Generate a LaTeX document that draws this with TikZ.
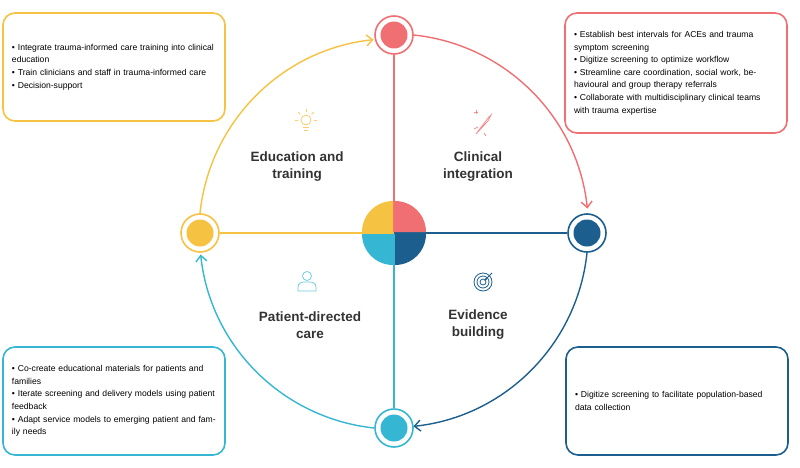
\documentclass[tikz,border=0pt]{standalone}
\usepackage{fontspec}
\setmainfont{Liberation Sans}
\usetikzlibrary{arrows.meta, calc}
\definecolor{cyel}{HTML}{F5C242}
\definecolor{cred}{HTML}{EF6F72}
\definecolor{cblu}{HTML}{1C5F8E}
\definecolor{ccya}{HTML}{35B6D2}
\begin{document}
\begin{tikzpicture}[x=1pt, y=1pt,
  ring/.style={circle, draw=#1, line width=1.6pt, fill=white, minimum size=38pt, inner sep=0pt,
    path picture={\fill[#1] (path picture bounding box.center) circle (13.5pt);}},
  box/.style={draw=#1, line width=1.6pt, rounded corners=12pt, inner xsep=9pt,
    text width=204pt, minimum height=108pt, align=left, font=\fontsize{8.6}{12.6}\selectfont},
  label/.style={font=\fontsize{13.5}{17}\selectfont\bfseries, align=center, text=black!80},
  loop/.style={line width=1.4pt, -{Straight Barb[length=6pt, width=11pt]}}]
  \useasboundingbox (0,0) rectangle (800,467);

  % centre and spokes
  \coordinate (C) at (394,234);
  \node[ring=cred] (T) at (394,432) {};
  \node[ring=cblu] (R) at (587,234) {};
  \node[ring=ccya] (B) at (394,39) {};
  \node[ring=cyel] (L) at (200,234) {};
  \draw[cred, line width=1.4pt] (T) -- (C);
  \draw[ccya, line width=1.4pt] (C) -- (B);
  \draw[cyel, line width=1.4pt] (L) -- (C);
  \draw[cblu, line width=1.4pt] (C) -- (R);

  % centre quarters
  \fill[cyel] ($(C)+(-1,1)$) -- ++(-31,0) arc (180:90:31) -- cycle;
  \fill[cred] ($(C)+(1,1)$) -- ++(0,31) arc (90:0:31) -- cycle;
  \fill[ccya] ($(C)+(-1,-1)$) -- ++(0,-31) arc (270:180:31) -- cycle;
  \fill[cblu] ($(C)+(1,-1)$) -- ++(31,0) arc (0:-90:31) -- cycle;

  % loop arrows
  \draw[loop, cyel] (L.north) arc (174:96:195);
  \draw[loop, cred] (T.east) arc (84:6:195);
  \draw[loop, cblu] (R.south) arc (-6:-84:195);
  \draw[loop, ccya] (B.west) arc (264:186:195);

  % labels
  \node[label] (edu) at (297,300) {Education and\\training};
  \node[label] (cli) at (478,300) {Clinical\\integration};
  \node[label] (pat) at (310,142) {Patient-directed\\care};
  \node[label] (evi) at (478,142) {Evidence\\building};

  % icons
  \begin{scope}[cyel!80!white, line width=0.8pt]
    \draw (306,347) circle (5);
    \draw (303,340) -- (309,340) (304,337) -- (308,337);
    \foreach \a in {0,45,90,135,180} \draw (306,347) ++(\a:8) -- ++(\a:3);
  \end{scope}
  \begin{scope}[cred!80!white, line width=0.8pt]
    \draw (476,333) -- (488,349) -- (491,352) -- (488,346) -- cycle;
    \draw (478,340) -- (474,338) (484,334) -- (486,331);
    \draw (476,353) -- (476,357) (474,355) -- (478,355);
  \end{scope}
  \begin{scope}[ccya!70!white, line width=0.8pt]
    \draw (307,191) circle (4.5);
    \draw (298,176) -- (298,180) .. controls (298,184) and (302,185) .. (304,185) -- (310,185) .. controls (312,185) and (316,184) .. (316,180) -- (316,176) -- cycle;
  \end{scope}
  \begin{scope}[cblu, line width=0.8pt]
    \foreach \r in {3,6,9} \draw (483,185) circle (\r);
    \draw[-{Latex[length=3pt]}] (492,194) -- (484,186);
  \end{scope}

  % side boxes
  \node[box=cyel] (b1) at (114,400) {%
    • Integrate trauma-informed care training into clinical education\\
    • Train clinicians and staff in trauma-informed care\\
    • Decision-support};
  \node[box=cred, minimum height=120pt] (b2) at (676,394) {%
    • Establish best intervals for ACEs and trauma symptom screening\\
    • Digitize screening to optimize workflow\\
    • Streamline care coordination, social work, behavioural and group therapy referrals\\
    • Collaborate with multidisciplinary clinical teams with trauma expertise};
  \node[box=ccya] (b3) at (114,66) {%
    • Co-create educational materials for patients and families\\
    • Iterate screening and delivery models using patient feedback\\
    • Adapt service models to emerging patient and family needs};
  \node[box=cblu] (b4) at (677,66) {%
    • Digitize screening to facilitate population-based data collection};
\end{tikzpicture}
\end{document}
